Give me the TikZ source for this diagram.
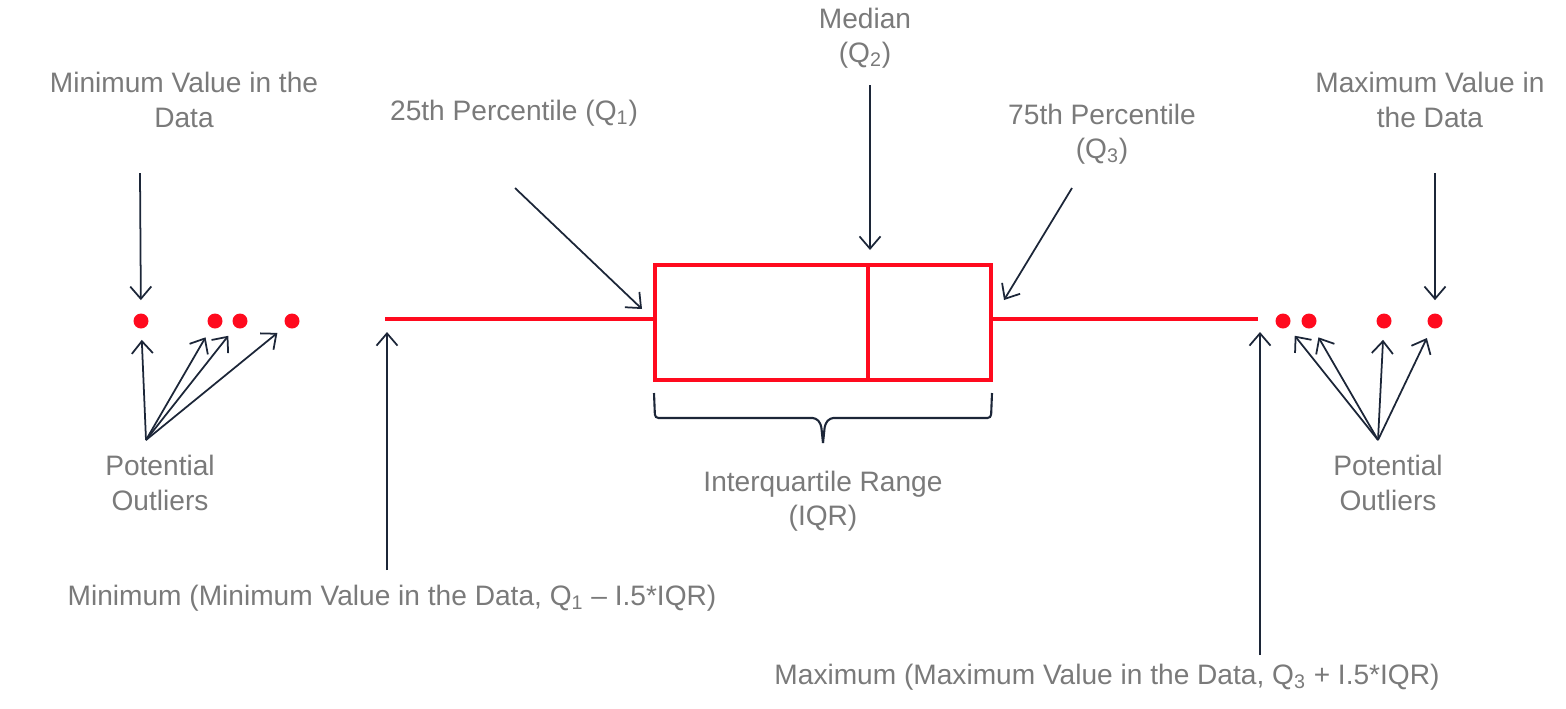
\documentclass[tikz,border=0pt]{standalone}
\usepackage{fontspec}
\setmainfont{Liberation Sans}
\usetikzlibrary{arrows.meta,calc}
\definecolor{txtgrey}{HTML}{7A7A7A}
\definecolor{navy}{HTML}{1C2638}
\definecolor{boxred}{HTML}{FF0A1E}
\tikzset{
  lbl/.style={text=txtgrey, font=\fontsize{16}{19.5}\selectfont, align=center, inner sep=0pt},
  arr/.style={draw=navy, line width=1pt, -{Straight Barb[length=7pt,width=12pt,line width=1pt]}},
  redline/.style={draw=boxred, line width=2.4pt},
  dot/.style={circle, fill=boxred, minimum size=0.3cm, inner sep=0pt},
  bracepath/.style={draw=navy, line width=1.2pt, rounded corners=2pt}
}
\begin{document}
\begin{tikzpicture}[x=0.02cm, y=-0.02cm]
\useasboundingbox (0,0) rectangle (1566,708);
% labels
\node[lbl] (minval) at (184,100) {Minimum Value in the\\Data};
\node[lbl] (q1lbl) at (514,113) {25th Percentile (Q\textsubscript{1})};
\node[lbl] (medlbl) at (865,38) {Median\\(Q\textsubscript{2})};
\node[lbl] (q3lbl) at (1102,134) {75th Percentile\\(Q\textsubscript{3})};
\node[lbl] (maxval) at (1430,100) {Maximum Value in\\the Data};
\node[lbl] (potl) at (160,483) {Potential\\Outliers};
\node[lbl] (potr) at (1388,483) {Potential\\Outliers};
\node[lbl] (iqr) at (823,501) {Interquartile Range\\(IQR)};
\node[lbl] (minlbl) at (392,598) {Minimum (Minimum Value in the Data, Q\textsubscript{1} -- I.5*IQR)};
\node[lbl] (maxlbl) at (1107,677) {Maximum (Maximum Value in the Data, Q\textsubscript{3} + I.5*IQR)};
% box
\node[redline, rectangle, minimum width=6.72cm, minimum height=2.3cm, inner sep=0pt] (box) at (823,322.5) {};
\coordinate (medtop) at (868,265);
\draw[redline] (medtop) -- (medtop |- box.south);
\coordinate (wl) at (385,319);
\coordinate (wr) at (1258,319);
\draw[redline] (wl) -- (wl -| box.west);
\draw[redline] (box.east |- wr) -- (wr);
% dots
\node[dot] (l1) at (141,321) {};
\node[dot] (l2) at (215,321) {};
\node[dot] (l3) at (240,321) {};
\node[dot] (l4) at (292,321) {};
\node[dot] (r1) at (1283,321) {};
\node[dot] (r2) at (1309,321) {};
\node[dot] (r3) at (1384,321) {};
\node[dot] (r4) at (1435,321) {};
% arrows from top
\coordinate (minvals) at (140,173);
\draw[arr, shorten >=0.26cm] (minvals) -- (l1);
\coordinate (maxvals) at (1435,173);
\draw[arr, shorten >=0.26cm] (maxvals) -- (r4);
\coordinate (meds) at (870,85);
\coordinate (mede) at (870,250);
\draw[arr] (meds) -- (mede);
\coordinate (q1s) at (515,188);
\coordinate (q1e) at (642,309);
\draw[arr] (q1s) -- (q1e);
\coordinate (q3s) at (1072,188);
\coordinate (q3e) at (1004,300);
\draw[arr] (q3s) -- (q3e);
% outlier arrows
\coordinate (ls) at (146,440);
\foreach \d in {l1,l2,l3,l4} \draw[arr, shorten >=0.22cm] (ls) -- (\d);
\coordinate (rs) at (1378,440);
\foreach \d in {r1,r2,r3,r4} \draw[arr, shorten >=0.22cm] (rs) -- (\d);
% min / max arrows
\coordinate (mins) at (387,570);
\coordinate (mine) at (387,332);
\draw[arr] (mins) -- (mine);
\coordinate (maxs) at (1260,655);
\coordinate (maxe) at (1260,332);
\draw[arr] (maxs) -- (maxe);
% brace
\coordinate (bl) at (654,393);
\coordinate (br) at (992,393);
\coordinate (bt) at (823,443);
\draw[bracepath] (bl) -- (655,418) -- (816,418) -- (821,424) -- (bt);
\draw[bracepath] (br) -- (991,418) -- (830,418) -- (825,424) -- (bt);
\end{tikzpicture}
\end{document}
